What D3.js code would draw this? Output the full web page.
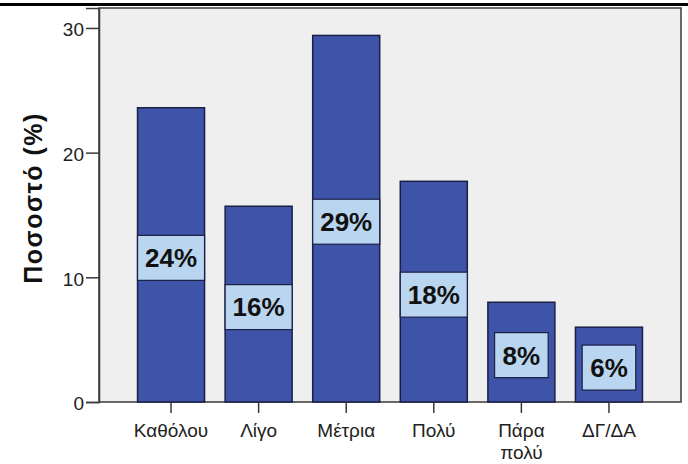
<!DOCTYPE html>
<html>
<head>
<meta charset="utf-8">
<script src="https://cdn.jsdelivr.net/npm/d3@7"></script>
<style>
  html, body { margin: 0; padding: 0; background: #ffffff; }
  svg { display: block; font-family: "Liberation Sans", Arial, sans-serif; }
</style>
</head>
<body>
<svg id="chart" width="688" height="464"></svg>
<script>
// Responses and their share of the sample (%)
const categories = ["Καθόλου", "Λίγο", "Μέτρια", "Πολύ", "Πάρα πολύ", "ΔΓ/ΔΑ"];
const percents = [23.6, 15.7, 29.4, 17.7, 8.0, 6.0];
const yTicks = [0, 10, 20, 30];
const yTitle = "Ποσοστό (%)";

const svg = d3.select("#chart");
const W = 688, H = 464;
const plot = { left: 99, right: 681, top: 8, bottom: 402 };

const x = d3.scaleBand()
  .domain(categories)
  .range([plot.left, plot.right])
  .paddingInner(0.235)
  .paddingOuter(0.44);

const y = d3.scaleLinear()
  .domain([0, 31.6])
  .range([plot.bottom, plot.top]);

// rule across the top of the page
svg.append("rect").attr("x", 0).attr("y", 3).attr("width", W).attr("height", 3).attr("fill", "#000");

// plot area
svg.append("rect")
  .attr("x", plot.left).attr("y", plot.top)
  .attr("width", plot.right - plot.left).attr("height", plot.bottom - plot.top)
  .attr("fill", "#efefef")
  .attr("stroke", "#3a3a3a").attr("stroke-width", 1.5);

// bars
const data = categories.map((c, i) => ({ cat: c, v: percents[i] }));
svg.append("g").selectAll("rect").data(data).join("rect")
  .attr("x", d => x(d.cat))
  .attr("y", d => y(d.v))
  .attr("width", x.bandwidth())
  .attr("height", d => y(0) - y(d.v))
  .attr("fill", "#3e54a8")
  .attr("stroke", "#1b1f45").attr("stroke-width", 1.5);

// value labels in boxes at bar mid-height
const lab = svg.append("g").selectAll("g").data(data).join("g")
  .attr("transform", d => `translate(${x(d.cat) + x.bandwidth() / 2},${(y(d.v) + y(0)) / 2 + 3})`);
lab.append("text")
  .attr("text-anchor", "middle")
  .attr("dy", "0.36em")
  .attr("font-size", 26).attr("font-weight", "bold")
  .attr("fill", "#111")
  .text(d => Math.round(d.v) + "%");
lab.each(function() {
  const g = d3.select(this);
  const t = g.select("text");
  const tw = t.node().getComputedTextLength();
  const bw = Math.min(tw + 16, x.bandwidth());
  g.insert("rect", "text")
    .attr("x", -bw / 2).attr("y", -22.5)
    .attr("width", bw).attr("height", 45)
    .attr("fill", "#bad5ef")
    .attr("stroke", "#1b1f45").attr("stroke-width", 1.2);
});

// y axis
const yAxis = svg.append("g")
  .attr("transform", `translate(${plot.left},0)`)
  .call(d3.axisLeft(y).tickValues(yTicks).tickSize(13).tickPadding(2).tickFormat(d3.format("d")));
yAxis.select(".domain").attr("stroke", "#3a3a3a").attr("stroke-width", 1.5);
yAxis.selectAll(".tick line").attr("stroke", "#3a3a3a").attr("stroke-width", 1.5);
yAxis.selectAll(".tick text").attr("font-size", 19).attr("fill", "#222").attr("dy", "0.42em");

// x axis
const xAxis = svg.append("g")
  .attr("transform", `translate(0,${plot.bottom})`)
  .call(d3.axisBottom(x).tickSize(11).tickPadding(0).tickFormat(""));
xAxis.select(".domain").remove();
xAxis.selectAll(".tick line").attr("stroke", "#3a3a3a").attr("stroke-width", 1.5);
xAxis.selectAll(".tick").each(function(d) {
  const words = d.split(" ");
  const t = d3.select(this).append("text")
    .attr("text-anchor", "middle").attr("font-size", 19).attr("fill", "#222");
  words.forEach((w, i) => {
    t.append("tspan").attr("x", 0).attr("y", 35 + i * 22).text(w);
  });
});

// y title
svg.append("text")
  .attr("transform", `translate(42,198) rotate(-90)`)
  .attr("text-anchor", "middle")
  .attr("font-size", 25).attr("font-weight", "bold")
  .attr("letter-spacing", 1.5)
  .attr("fill", "#111")
  .text(yTitle);
</script>
</body>
</html>
